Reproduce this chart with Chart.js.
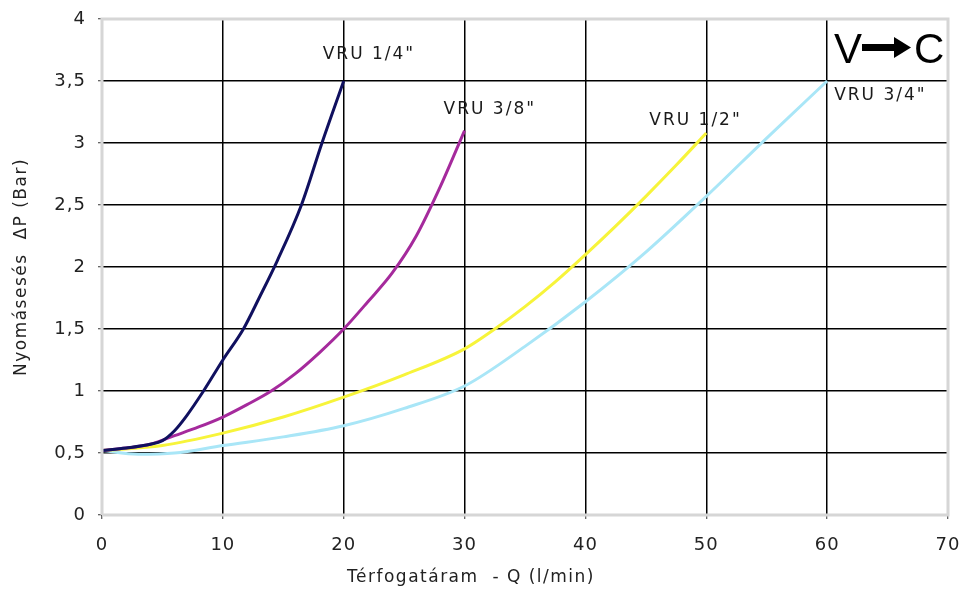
<!DOCTYPE html>
<html>
<head>
<meta charset="utf-8">
<script src="https://cdn.jsdelivr.net/npm/chart.js@4/dist/chart.umd.min.js"></script>
<style>
  html, body { margin: 0; padding: 0; background: #fff; }
  #wrap { width: 962px; height: 593px; }
</style>
</head>
<body>
<div id="wrap"><canvas id="myChart"></canvas></div>
<script>
// series values (Q in l/min, dP in bar)
var seriesNames = ['VRU 1/4"', 'VRU 3/8"', 'VRU 1/2"', 'VRU 3/4"'];

var q14 = [0, 2, 4, 5, 6, 7, 8.4, 10, 11.7, 13, 14.5, 16.5, 18.2, 20];
var p14 = [0.52, 0.54, 0.57, 0.6, 0.68, 0.8, 1.0, 1.25, 1.5, 1.75, 2.05, 2.5, 3.0, 3.5];

var q38 = [0, 2, 4, 6, 8, 10, 12, 14, 16, 18, 20, 22, 24, 26, 28, 30];
var p38 = [0.52, 0.54, 0.57, 0.64, 0.71, 0.79, 0.89, 1.0, 1.14, 1.31, 1.5, 1.72, 1.95, 2.25, 2.65, 3.1];

var q12 = [0, 5, 10, 15, 20, 25, 30, 32.5, 35, 37.5, 40, 42.5, 45, 47.5, 50];
var p12 = [0.52, 0.56, 0.66, 0.79, 0.95, 1.13, 1.34, 1.5, 1.68, 1.88, 2.1, 2.33, 2.57, 2.82, 3.08];

var q34 = [0, 3, 6, 10, 15, 20, 25, 30, 35, 40, 45, 50, 55, 60];
var p34 = [0.52, 0.49, 0.5, 0.56, 0.63, 0.72, 0.86, 1.04, 1.36, 1.72, 2.12, 2.57, 3.04, 3.5];

var xTicks = [0, 10, 20, 30, 40, 50, 60, 70];
var yTicks = [0, 0.5, 1, 1.5, 2, 2.5, 3, 3.5, 4];

var xTitle = 'Térfogatáram  - Q (l/min)';
var yTitle = 'Nyomásesés  ΔP (Bar)';

var FONT = "'DejaVu Sans', 'Open Sans', sans-serif";

function toPoints(xs, ys) {
  return xs.map(function(x, i) { return { x: x, y: ys[i] }; });
}

function makeSet(name, xs, ys, color, dx, dy) {
  return {
    label: name,
    data: toPoints(xs, ys),
    borderColor: color,
    backgroundColor: color,
    borderWidth: 3,
    pointRadius: 0,
    cubicInterpolationMode: 'monotone',
    labelDx: dx,
    labelDy: dy
  };
}

// the reference text is widely spaced
var spacing = {
  id: 'spacing',
  beforeLayout: function(chart) { chart.ctx.letterSpacing = '1px'; },
  beforeDraw: function(chart) { chart.ctx.letterSpacing = '1px'; }
};

//labels next to the end of each curve
var endLabels = {
  id: 'endLabels',
  afterDatasetsDraw: function(chart) {
    var ctx = chart.ctx;
    ctx.save();
    ctx.font = "17px " + FONT;
    ctx.letterSpacing = '2px';
    ctx.fillStyle = '#1a1a1a';
    ctx.textAlign = 'left';
    ctx.textBaseline = 'alphabetic';
    chart.data.datasets.forEach(function(ds, i) {
      var meta = chart.getDatasetMeta(i);
      var pt = meta.data[meta.data.length - 1];
      ctx.fillText(ds.label, pt.x + ds.labelDx, pt.y + ds.labelDy);
    });
    ctx.restore();
  }
};

//axis titles, frame and the V -> C mark
var decorations = {
  id: 'decorations',
  afterDraw: function(chart) {
    var ctx = chart.ctx;
    var a = chart.chartArea;
    ctx.save();

    ctx.strokeStyle = '#d6d6d6';
    ctx.lineWidth = 3;
    ctx.beginPath();
    ctx.moveTo(a.left, a.bottom);
    ctx.lineTo(a.left, a.top);
    ctx.lineTo(a.right, a.top);
    ctx.lineTo(a.right, a.bottom);
    ctx.lineTo(a.left, a.bottom);
    ctx.stroke();

    ctx.fillStyle = '#222';
    ctx.font = "17px " + FONT;
    ctx.letterSpacing = '1.5px';
    ctx.textAlign = 'center';
    ctx.textBaseline = 'middle';
    ctx.fillText(xTitle, 471, 578);

    ctx.translate(22, (a.top + a.bottom) / 2);
    ctx.rotate(-Math.PI / 2);
    ctx.fillText(yTitle, 0, 0);
    ctx.restore();

    // V -> C
    ctx.save();
    ctx.letterSpacing = '0px';
    ctx.fillStyle = '#000';
    ctx.font = "42px 'Liberation Sans', sans-serif";
    ctx.textBaseline = 'alphabetic';
    ctx.textAlign = 'left';
    var bx = a.right - 114, by = a.top + 44;
    ctx.fillText('V', bx, by);
    ctx.fillRect(bx + 28, by - 19, 34, 7);
    ctx.beginPath();
    ctx.moveTo(bx + 60, by - 26);
    ctx.lineTo(bx + 77, by - 15.5);
    ctx.lineTo(bx + 60, by - 5);
    ctx.closePath();
    ctx.fill();
    ctx.fillText('C', bx + 80, by);
    ctx.restore();
  }
};

function gridColor(ctx) {
  var v = ctx.tick ? ctx.tick.value : null;
  var max = ctx.scale.max;
  if (v === 0 || v === max) return 'rgba(0,0,0,0)';
  return '#000';
}

var ctx1 = document.getElementById('myChart');

var chart1 = new Chart(ctx1, {
  type: 'line',
  data: {
    datasets: [
      makeSet(seriesNames[0], q14, p14, '#10105f', -21, -22),
      makeSet(seriesNames[1], q38, p38, '#a52a9c', -21, -17),
      makeSet(seriesNames[2], q12, p12, '#f7f43a', -57, -8),
      makeSet(seriesNames[3], q34, p34, '#a9e6f7', 7, 19)
    ]
  },
  options: {
    responsive: true,
    maintainAspectRatio: false,
    animation: false,
    layout: { padding: { top: 19, right: 14, left: 0, bottom: 0 } },
    plugins: {
      legend: { display: false },
      tooltip: { enabled: false }
    },
    scales: {
      x: {
        type: 'linear',
        min: 0,
        max: 70,
        afterBuildTicks: function(scale) {
          scale.ticks = xTicks.map(function(v) { return { value: v }; });
        },
        afterFit: function(scale) {
          scale.height = 78;
          scale.paddingLeft = 0;
          scale.paddingRight = 0;
        },
        grid: {
          color: gridColor,
          lineWidth: 1.5,
          tickLength: 4,
          tickColor: '#333',
          tickWidth: 1
        },
        border: { display: false },
        ticks: {
          padding: 16,
          color: '#222',
          font: { family: FONT, size: 18 },
          maxRotation: 0,
          callback: function(v) { return String(v); }
        }
      },
      y: {
        min: 0,
        max: 4,
        afterBuildTicks: function(scale) {
          scale.ticks = yTicks.map(function(v) { return { value: v }; });
        },
        afterFit: function(scale) {
          scale.width = 102;
          scale.paddingTop = 0;
          scale.paddingBottom = 0;
        },
        grid: {
          color: gridColor,
          lineWidth: 1.5,
          tickLength: 4,
          tickColor: '#333',
          tickWidth: 1
        },
        border: { display: false },
        ticks: {
          padding: 12,
          color: '#222',
          font: { family: FONT, size: 18 },
          callback: function(v) { return String(v).replace('.', ','); }
        }
      }
    }
  },
  plugins: [spacing, endLabels, decorations]
});
</script>
</body>
</html>
